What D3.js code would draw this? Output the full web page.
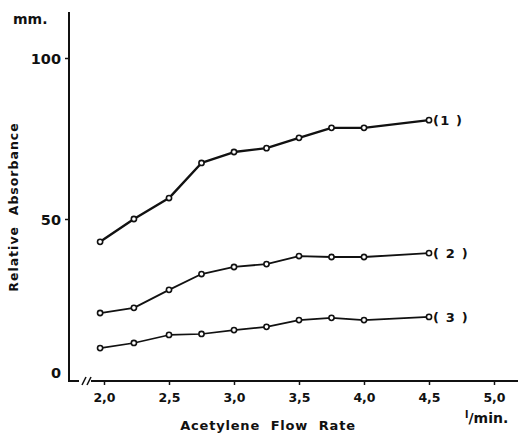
<!DOCTYPE html>
<html>
<head>
<meta charset="utf-8">
<title>Relative Absorbance vs Acetylene Flow Rate</title>
<script src="https://d3js.org/d3.v7.min.js"></script>
<style>
body{margin:0;background:#fff;}
.chart text{font-family:"DejaVu Sans",sans-serif;font-weight:bold;fill:#111;}
.chart .series{fill:none;stroke:#111;stroke-linejoin:round;}
.chart circle{fill:#fff;stroke:#111;stroke-width:1.6;}
</style>
</head>
<body>
<svg class="chart" width="518" height="436"></svg>
<script>
// flow rate (l/min) at which each reading was taken
var flowRate=[1.97,2.23,2.5,2.75,3.0,3.25,3.5,3.75,4.0,4.5];
var curve1=[42.9,50.0,56.5,67.4,70.8,72.0,75.2,78.3,78.3,80.7];
var curve2=[20.8,22.4,28.0,32.9,35.1,36.0,38.5,38.2,38.2,39.4];
var curve3=[9.9,11.5,14.0,14.3,15.5,16.5,18.6,19.3,18.6,19.6];
var seriesNames=['(1 )','( 2 )','( 3 )'];
var xTicks=[2.0,2.5,3.0,3.5,4.0,4.5,5.0];
var xTickLabels=['2,0','2,5','3,0','3,5','4,0','4,5','5,0'];
var yTicks=[0,50,100];

var svg=d3.select('.chart');
var x=d3.scaleLinear().domain([2,5]).range([104,494]);
var y=d3.scaleLinear().domain([0,100]).range([380,58]);
var x0=69, yBase=381;

// y axis
var yAxis=d3.axisLeft(y).tickValues(yTicks).tickSize(4).tickPadding(4);
var yg=svg.append('g').attr('transform','translate('+x0+',0)').call(yAxis);
yg.select('.domain').remove();
yg.selectAll('.tick line').attr('stroke','#111').attr('stroke-width',1.5)
  .attr('opacity',function(d){return d==0?0:1;});
yg.selectAll('.tick text').attr('font-size',14.5).attr('font-weight','600')
  .attr('dy',function(d){return d==0?'-0.2em':'0.35em';});
svg.append('line').attr('x1',x0).attr('x2',x0).attr('y1',12).attr('y2',yBase+1)
  .attr('stroke','#111').attr('stroke-width',2);

// x axis, broken near the origin
var xAxis=d3.axisBottom(x).tickValues(xTicks).tickSize(4).tickPadding(8)
  .tickFormat(function(d,i){return xTickLabels[i];});
var xg=svg.append('g').attr('transform','translate(0,'+yBase+')').call(xAxis);
xg.select('.domain').remove();
xg.selectAll('.tick line').attr('stroke','#111').attr('stroke-width',1.5);
xg.selectAll('.tick text').attr('font-size',12.5);
svg.append('line').attr('x1',x0-1).attr('x2',79).attr('y1',yBase).attr('y2',yBase)
  .attr('stroke','#111').attr('stroke-width',2);
svg.append('line').attr('x1',91).attr('x2',518).attr('y1',yBase).attr('y2',yBase)
  .attr('stroke','#111').attr('stroke-width',2);
[84,89].forEach(function(bx){
  svg.append('line').attr('x1',bx-2).attr('x2',bx+2).attr('y1',yBase+4).attr('y2',yBase-4)
    .attr('stroke','#111').attr('stroke-width',1.6);
});

// curves
var series=[curve1,curve2,curve3];
var widths=[2.4,1.8,1.6];
var line=d3.line().x(function(d){return x(d[0]);}).y(function(d){return y(d[1]);});
series.forEach(function(vals,k){
  var pts=flowRate.map(function(f,i){return [f,vals[i]];});
  svg.append('path').attr('class','series').attr('stroke-width',widths[k]).attr('d',line(pts));
  svg.selectAll(null).data(pts).enter().append('circle')
    .attr('cx',function(d){return x(d[0]);})
    .attr('cy',function(d){return y(d[1]);})
    .attr('r',2.6);
  var last=pts[pts.length-1];
  svg.append('text').attr('x',x(last[0])+4).attr('y',y(last[1])+5)
    .attr('font-size',13).attr('xml:space','preserve').style('letter-spacing','1.2px')
    .text(seriesNames[k]);
});

// labels
svg.append('text').attr('x',13).attr('y',24).attr('font-size',14).attr('font-weight','600').text('mm.');
svg.append('text').attr('transform','translate(18,207) rotate(-90)')
  .attr('text-anchor','middle').attr('font-size',12.5).style('letter-spacing','1px')
  .attr('xml:space','preserve').text('Relative  Absorbance');
svg.append('text').attr('x',268).attr('y',430).attr('text-anchor','middle')
  .attr('font-size',13).style('letter-spacing','0.8px').attr('xml:space','preserve')
  .text('Acetylene  Flow  Rate');
var unit=svg.append('text').attr('x',465).attr('y',423).attr('font-size',14).attr('font-weight','600');
unit.append('tspan').attr('font-size',10).attr('dy',-5).text('l');
unit.append('tspan').attr('dy',5).text('/min.');
</script>
</body>
</html>
